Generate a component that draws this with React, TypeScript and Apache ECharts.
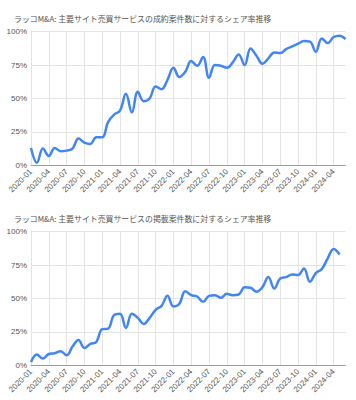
import React, { useEffect, useRef } from "react";
import * as echarts from "echarts";

const months: string[] = [];
for (let y = 2020; y <= 2024; y++) {
  for (let m = 1; m <= 12; m++) {
    if (y === 2024 && m > 6) break;
    months.push(`${y}-${m < 10 ? "0" + m : m}`);
  }
}

const titleTop = "ラッコM&A: 主要サイト売買サービスの成約案件数に対するシェア率推移";
const titleBottom = "ラッコM&A: 主要サイト売買サービスの掲載案件数に対するシェア率推移";

// 成約案件数 share (%)
const contractShare = [
  13, 2, 12.5, 7, 13, 10.5, 11, 12.5, 20, 17, 16, 21,
  21, 32.5, 38, 41, 53.5, 39.5, 55, 48, 50, 59, 57, 64,
  73, 66, 70, 78, 74.5, 81, 65.5, 75, 74.5, 73, 77, 83,
  75, 87.5, 82, 76, 80, 84.5, 84, 87, 89, 91, 93, 92.5,
  85, 95, 91.5, 96, 97, 94.5,
];

// 掲載案件数 share (%)
const listingShare = [
  2.5, 8, 5, 8.5, 9, 10.5, 7.5, 14, 19, 13, 16, 17.5,
  27, 27.5, 37.5, 38.5, 28, 38.5, 35.5, 31, 35.5, 41.5, 44.5, 52,
  44, 46, 55.5, 52.5, 51.5, 47.5, 52, 52.5, 50.5, 53.5, 52.5, 53,
  58.5, 58, 55, 58.5, 66, 57.5, 65, 66, 68, 67.5, 72.5, 62.5,
  69, 72, 80, 87, 83, null,
];

const yTicks = [0, 25, 50, 75, 100];

export default function App() {
  const ref = useRef<HTMLDivElement>(null);
  useEffect(() => {
    if (!ref.current) return;
    const chart = echarts.init(ref.current, undefined, { renderer: "svg" });
    const labelFont = "Liberation Sans, Arial, sans-serif";
    const cjkFont = "Noto Sans CJK JP, sans-serif";
    const xAxis = (gridIndex: number) => ({
      type: "category" as const,
      gridIndex,
      data: months,
      boundaryGap: false,
      axisTick: { show: false },
      axisLine: { show: true, lineStyle: { color: "#9e9e9e", width: 1 } },
      axisLabel: {
        interval: 2,
        rotate: 45,
        fontSize: 8,
        color: "#555",
        fontFamily: labelFont,
        margin: 5,
      },
      splitLine: { show: true, interval: 2, lineStyle: { color: "#e4e4e4", width: 1 } },
    });
    const yAxis = (gridIndex: number) => ({
      type: "value" as const,
      gridIndex,
      min: yTicks[0],
      max: yTicks[yTicks.length - 1],
      interval: 25,
      axisLine: { show: false },
      axisTick: { show: false },
      axisLabel: {
        formatter: "{value}%",
        fontSize: 8,
        color: "#555",
        fontFamily: labelFont,
        margin: 4,
      },
      splitLine: { lineStyle: { color: "#e4e4e4", width: 1 } },
    });
    const lineStyle = { color: "#4285f4", width: 2.5 };
    const titleStyle = { fontSize: 7.9, fontWeight: "normal", color: "#555", fontFamily: cjkFont };
    chart.setOption({
      animation: false,
      backgroundColor: "#ffffff",
      title: [
        { text: titleTop, left: 9, top: 10, textStyle: titleStyle },
        { text: titleBottom, left: 9, top: 210, textStyle: titleStyle },
      ],
      grid: [
        { left: 31, right: 10.5, top: 31.7, height: 133.6 },
        { left: 31, right: 10.5, top: 231.7, height: 133.6 },
      ],
      xAxis: [xAxis(0), xAxis(1)],
      yAxis: [yAxis(0), yAxis(1)],
      series: [
        {
          type: "line",
          xAxisIndex: 0,
          yAxisIndex: 0,
          data: contractShare,
          smooth: 0.4,
          showSymbol: false,
          lineStyle,
          itemStyle: { color: "#4285f4" },
        },
        {
          type: "line",
          xAxisIndex: 1,
          yAxisIndex: 1,
          data: listingShare,
          smooth: 0.4,
          showSymbol: false,
          lineStyle,
          itemStyle: { color: "#4285f4" },
        },
      ],
    });
    return () => chart.dispose();
  }, []);
  return (
    <div
      ref={ref}
      style={{ position: "absolute", left: 0, top: 0, width: 356, height: 400 }}
    />
  );
}
